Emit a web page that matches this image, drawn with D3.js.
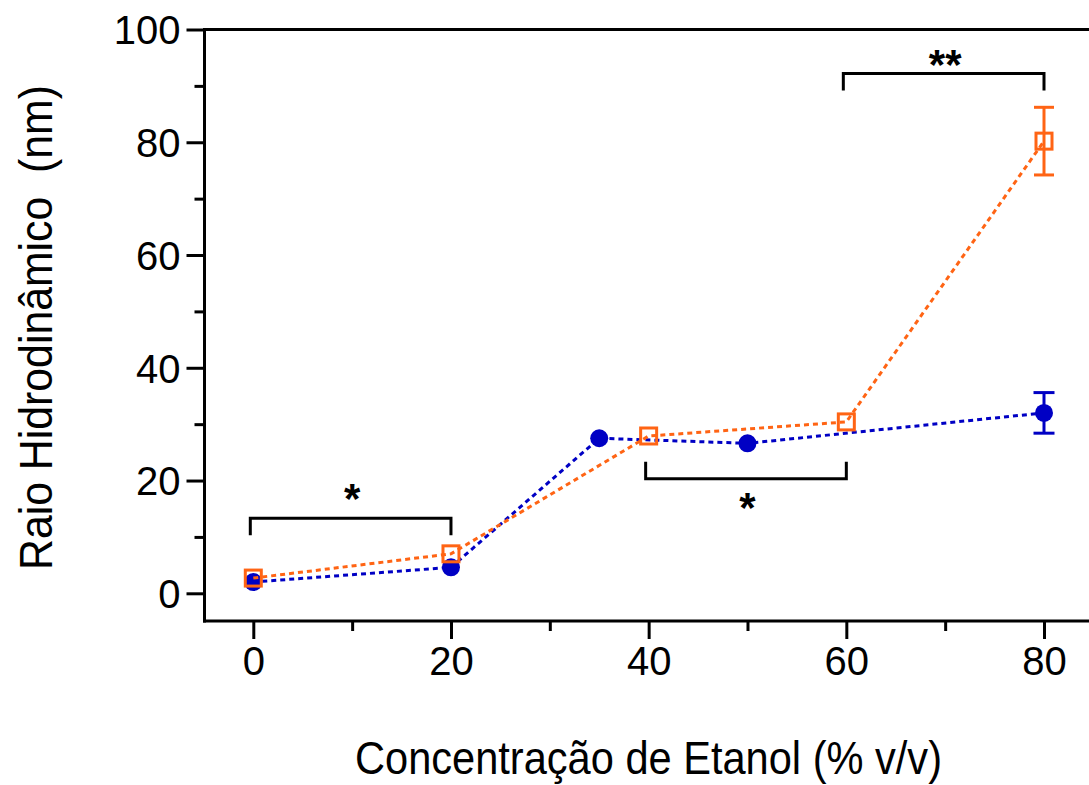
<!DOCTYPE html>
<html>
<head>
<meta charset="utf-8">
<script src="https://cdn.jsdelivr.net/npm/d3@7"></script>
<style>
  html, body { margin: 0; padding: 0; background: #fff; }
  svg { display: block; }
  text { font-family: "Liberation Sans", Arial, sans-serif; fill: #000; }
</style>
</head>
<body>
<svg id="chart" width="1089" height="785"></svg>
<script>
// Ethanol concentration (% v/v) and hydrodynamic radius (nm)
const blueX = [0, 20, 35, 50, 80];
const blueY = [2.0, 4.6, 27.5, 26.6, 32.0];
const blueErr = [0, 0, 0, 0, 3.6];

const orangeX = [0, 20, 40, 60, 80];
const orangeY = [2.7, 7.0, 27.9, 30.4, 80.2];
const orangeErr = [0, 0, 0, 0, 6.0];

const xTicks = [0, 20, 40, 60, 80];
const xMinor = [10, 30, 50, 70];
const yTicks = [0, 20, 40, 60, 80, 100];
const yMinor = [10, 30, 50, 70, 90];

// significance brackets: span, bar level, label level, direction of the arms
const brackets = [
  { x0: 0, x1: 20, y: 13.3, labelY: 17.6, label: "*", dir: "down" },
  { x0: 40, x1: 60, y: 20.3, labelY: 16.0, label: "*", dir: "up" },
  { x0: 60, x1: 80, y: 92.2, labelY: 94.6, label: "**", dir: "down" }
];

const blueColor = "#0000c4";
const orangeColor = "#ff6414";

const svg = d3.select("#chart");
const frameLeft = 204.5, frameRight = 1089, frameTop = 29.5, axisY = 621;

const x = d3.scaleLinear().domain([0, 80]).range([253.3, 1044]);
const y = d3.scaleLinear().domain([0, 100]).range([593.3, 29.5]);

// frame: left and bottom axis lines plus top border
svg.append("line").attr("x1", frameLeft).attr("x2", frameLeft).attr("y1", frameTop).attr("y2", axisY + 1.5)
  .attr("stroke", "#000").attr("stroke-width", 3);
svg.append("line").attr("x1", frameLeft - 1.5).attr("x2", frameRight).attr("y1", axisY).attr("y2", axisY)
  .attr("stroke", "#000").attr("stroke-width", 3);
svg.append("line").attr("x1", frameLeft - 1.5).attr("x2", frameRight).attr("y1", frameTop).attr("y2", frameTop)
  .attr("stroke", "#000").attr("stroke-width", 3);

// y axis
const yAxis = d3.axisLeft(y).tickValues(yTicks).tickSize(18).tickPadding(6).tickFormat(d3.format("d"));
const gy = svg.append("g").attr("transform", `translate(${frameLeft},0)`).call(yAxis);
gy.select(".domain").remove();
gy.selectAll(".tick line").attr("stroke", "#000").attr("stroke-width", 3);
gy.selectAll(".tick text").attr("font-size", 40).attr("dy", "0.36em")
  .style("font-family", "'Liberation Sans', Arial, sans-serif");
const gyMinor = svg.append("g").attr("transform", `translate(${frameLeft},0)`)
  .call(d3.axisLeft(y).tickValues(yMinor).tickSize(10).tickFormat(""));
gyMinor.select(".domain").remove();
gyMinor.selectAll(".tick line").attr("stroke", "#000").attr("stroke-width", 3);

// x axis
const xAxis = d3.axisBottom(x).tickValues(xTicks).tickSize(18).tickPadding(8).tickFormat(d3.format("d"));
const gx = svg.append("g").attr("transform", `translate(0,${axisY})`).call(xAxis);
gx.select(".domain").remove();
gx.selectAll(".tick line").attr("stroke", "#000").attr("stroke-width", 3);
gx.selectAll(".tick text").attr("font-size", 40)
  .style("font-family", "'Liberation Sans', Arial, sans-serif");
const gxMinor = svg.append("g").attr("transform", `translate(0,${axisY})`)
  .call(d3.axisBottom(x).tickValues(xMinor).tickSize(10).tickFormat(""));
gxMinor.select(".domain").remove();
gxMinor.selectAll(".tick line").attr("stroke", "#000").attr("stroke-width", 3);

// axis titles (condensed to their drawn widths)
svg.append("text")
  .attr("transform", `translate(52,${(85 + 570) / 2}) rotate(-90)`)
  .attr("text-anchor", "middle")
  .attr("font-size", 47)
  .attr("textLength", 485).attr("lengthAdjust", "spacingAndGlyphs")
  .style("white-space", "pre")
  .text("Raio Hidrodinâmico  (nm)");

svg.append("text")
  .attr("x", (355 + 942) / 2).attr("y", 774)
  .attr("text-anchor", "middle")
  .attr("font-size", 47)
  .attr("textLength", 587).attr("lengthAdjust", "spacingAndGlyphs")
  .text("Concentração de Etanol (% v/v)");

// series
const line = d3.line().x(d => x(d[0])).y(d => y(d[1]));
const blue = blueX.map((v, i) => [v, blueY[i], blueErr[i]]);
const orange = orangeX.map((v, i) => [v, orangeY[i], orangeErr[i]]);

function errorBars(data, color, cap) {
  const g = svg.append("g").attr("stroke", color).attr("stroke-width", 3);
  data.filter(d => d[2] > 0).forEach(d => {
    const cx = x(d[0]);
    g.append("line").attr("x1", cx).attr("x2", cx).attr("y1", y(d[1] + d[2])).attr("y2", y(d[1] - d[2]));
    [d[1] + d[2], d[1] - d[2]].forEach(v => {
      g.append("line").attr("x1", cx - cap / 2).attr("x2", cx + cap / 2).attr("y1", y(v)).attr("y2", y(v));
    });
  });
}

svg.append("path").datum(blue).attr("d", line)
  .attr("fill", "none").attr("stroke", blueColor).attr("stroke-width", 3)
  .attr("stroke-dasharray", "5,4");
errorBars(blue, blueColor, 21);
svg.append("g").selectAll("circle").data(blue).join("circle")
  .attr("cx", d => x(d[0])).attr("cy", d => y(d[1])).attr("r", 9)
  .attr("fill", blueColor);

svg.append("path").datum(orange).attr("d", line)
  .attr("fill", "none").attr("stroke", orangeColor).attr("stroke-width", 3)
  .attr("stroke-dasharray", "5,4");
errorBars(orange, orangeColor, 20);
const sq = 16;
svg.append("g").selectAll("rect").data(orange).join("rect")
  .attr("x", d => x(d[0]) - sq / 2).attr("y", d => y(d[1]) - sq / 2)
  .attr("width", sq).attr("height", sq)
  .attr("fill", "none").attr("stroke", orangeColor).attr("stroke-width", 3);

// significance brackets
brackets.forEach(b => {
  const yy = y(b.y);
  const arm = b.dir === "down" ? 17 : -17;
  svg.append("path")
    .attr("d", `M${x(b.x0) - 3},${yy + arm} V${yy} H${x(b.x1)} V${yy + arm}`)
    .attr("fill", "none").attr("stroke", "#000").attr("stroke-width", 3);
  svg.append("text")
    .attr("x", (x(b.x0) + x(b.x1)) / 2).attr("y", y(b.labelY) + 19)
    .attr("text-anchor", "middle").attr("font-size", 42).attr("font-weight", "bold")
    .text(b.label);
});
</script>
</body>
</html>
